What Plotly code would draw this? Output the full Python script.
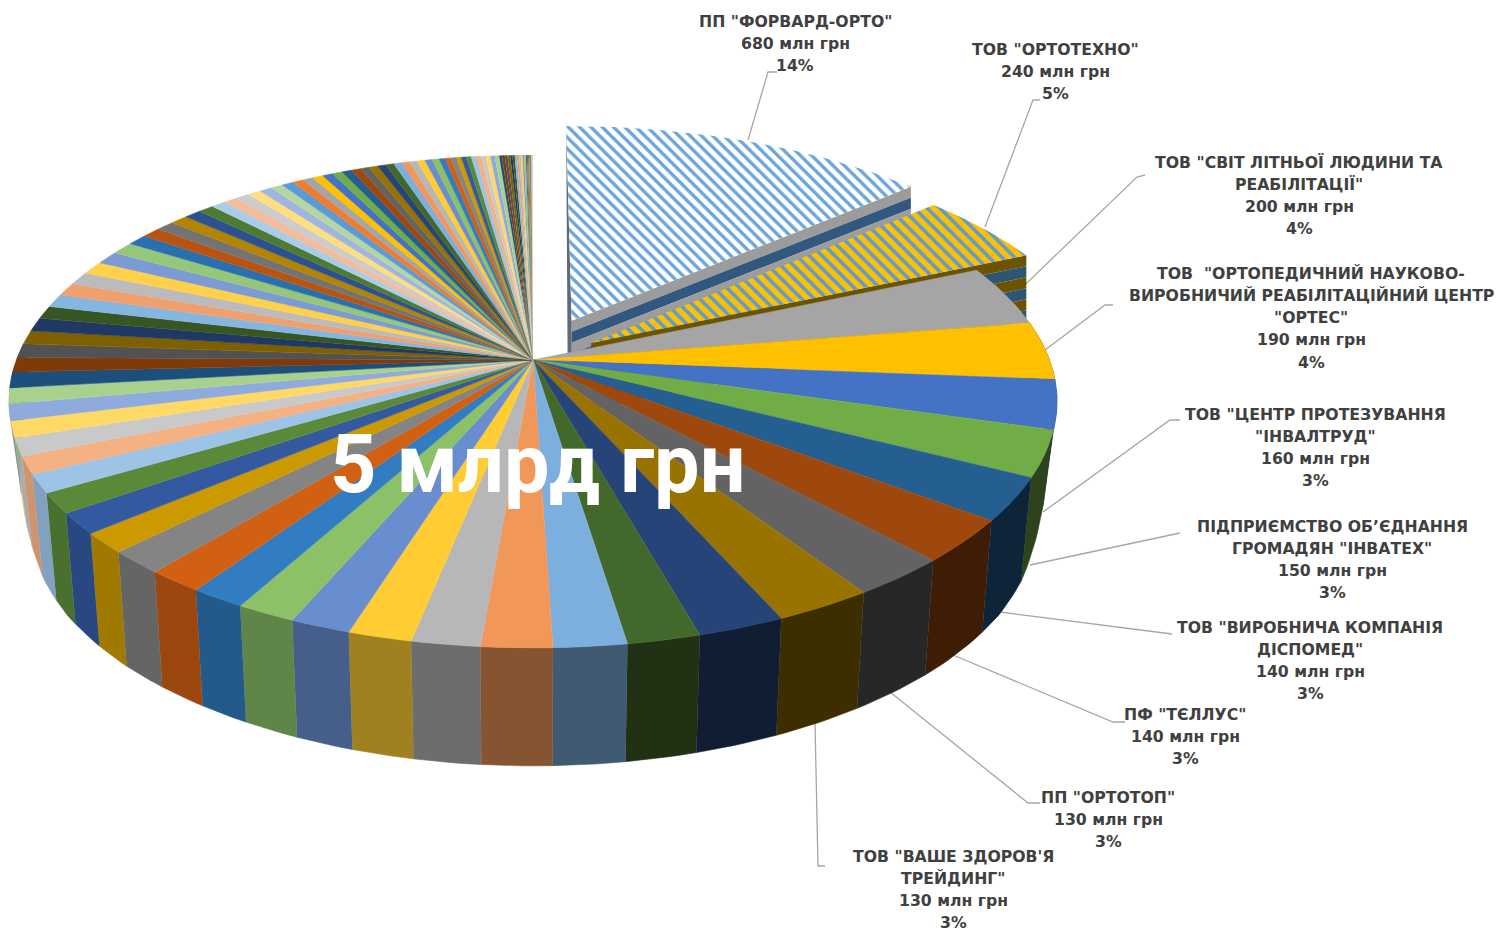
import numpy as np
import plotly.graph_objects as go

# ---------- data ----------
label_names = [
    'ПП "ФОРВАРД-ОРТО"',
    'ТОВ "ОРТОТЕХНО"',
    'ТОВ "СВІТ ЛІТНЬОЇ ЛЮДИНИ ТА|РЕАБІЛІТАЦІЇ"',
    'ТОВ  "ОРТОПЕДИЧНИЙ НАУКОВО-|ВИРОБНИЧИЙ РЕАБІЛІТАЦІЙНИЙ ЦЕНТР|"ОРТЕС"',
    'ТОВ "ЦЕНТР ПРОТЕЗУВАННЯ|"ІНВАЛТРУД"',
    'ПІДПРИЄМСТВО ОБ’ЄДНАННЯ|ГРОМАДЯН "ІНВАТЕХ"',
    'ТОВ "ВИРОБНИЧА КОМПАНІЯ|ДІСПОМЕД"',
    'ПФ "ТЄЛЛУС"',
    'ПП "ОРТОТОП"',
    'ТОВ "ВАШЕ ЗДОРОВ\'Я|ТРЕЙДИНГ"',
]
labelled_values = [680, 240, 200, 190, 160, 150, 140, 140, 130, 130]
other_values = [
    115, 96, 96, 93, 90, 84, 80, 79, 73, 75, 75, 66, 68, 66, 60, 57, 57, 54, 53, 51, 51,
    48, 46, 45, 44, 43,
    43, 43, 43, 43, 42, 42,
    36, 34, 33, 32, 30, 29,
    26, 25, 25, 24, 23, 22,
    21, 20, 19, 19, 19, 18,
    18, 17, 16, 16, 15, 15,
    15, 14, 14, 14, 13, 13,
    11, 10, 10, 9, 9, 9,
    9, 9, 8, 8, 8, 8,
    5, 5, 5, 5, 4, 4,
    4, 4, 3, 3, 3, 3, 2, 2, 2, 2, 1, 1, 1, 1, 1,
]
total_title = "5 млрд грн"
palette = [
    ["#5B9BD5", "#ED7D31", "#A5A5A5", "#FFC000", "#4472C4", "#70AD47"],
    ["#255E91", "#9E480E", "#636363", "#997300", "#264478", "#43682B"],
    ["#7CAFDD", "#F1975A", "#B7B7B7", "#FFCD33", "#698ED0", "#8CC168"],
    ["#327DC2", "#D26012", "#848484", "#CC9A00", "#335AA1", "#5A8A39"],
    ["#9DC3E6", "#F4B183", "#C9C9C9", "#FFD966", "#8FAADC", "#A9D18E"],
    ["#1D4F7C", "#7F3A0A", "#525252", "#7F6000", "#1F3864", "#375623"],
    ["#85B6E0", "#EEA06F", "#BBBBBB", "#FFD04A", "#7C9AD3", "#96C67B"],
    ["#2A70AF", "#B85410", "#737373", "#B28400", "#2C5090", "#4E7A33"],
    ["#A9CCE9", "#F4BC9A", "#CCCCCC", "#FFDE81", "#9FB5E0", "#B5D6A3"],
]

# ---------- label layout (screen pixels) ----------
label_cx = [795, 1055, 1299, 1311, 1315, 1332, 1310, 1185, 1108, 953]
label_top = [21, 49, 162, 273, 414, 526, 627, 714, 797, 856]
leaders = [
    [(777, 72), (768, 72), (748, 140)],
    [(1040, 100), (1033, 100), (985, 227)],
    [(1145, 175), (1137, 177), (1008, 301)],
    [(1113, 305), (1105, 305), (1045, 350)],
    [(1180, 420), (1170, 420), (1043, 512)],
    [(1180, 533), (1030, 565)],
    [(1172, 634), (1000, 612)],
    [(1125, 722), (1113, 722), (953, 655)],
    [(1040, 803), (1028, 803), (890, 692)],
    [(825, 866), (818, 866), (815, 722)],
]

# ---------- pie projection ----------
CX, CY = 533.0, 360.0
A, B, K = 516.5, 239.5, 0.168
EXPLODE = {0: 0.185, 1: 0.135}

values = np.array(labelled_values + other_values, float)
edges = np.concatenate([[0.0], np.cumsum(values)]) / values.sum() * 2 * np.pi


def project(theta, e=0.0, mid=0.0):
    """Disc position at clockwise angle theta (r=1), moved e along mid, to screen."""
    X = np.sin(theta) + e * np.sin(mid)
    Y = -np.cos(theta) + e * -np.cos(mid)
    w = 1 - K * Y
    return CX + A * X / w, CY + B * Y / w


def apex(e, mid):
    X, Y = e * np.sin(mid), -e * np.cos(mid)
    w = 1 - K * Y
    return CX + A * X / w, CY + B * Y / w


def drop(x, y_top, theta):
    Y = -np.cos(theta)
    h = np.interp(Y, [0, .3, .45, .55, .7, 1], [50, 78, 103, 110, 114, 118])
    return x - (x - CX) * 0.02, y_top + h


def shade(hexcol, f):
    r, g, b = (int(hexcol[i:i + 2], 16) for i in (1, 3, 5))
    return f"rgb({r * f:.0f},{g * f:.0f},{b * f:.0f})"


def color_of(i):
    return palette[(i // 6) % len(palette)][i % 6]


fig = go.Figure()


def poly(xs, ys, color, pattern=None, seam=True):
    kw = dict(x=list(xs), y=list(ys), mode="lines", fill="toself", fillcolor=color,
              line=dict(color=color, width=0.6 if seam else 0),
              hoverinfo="skip", showlegend=False)
    if pattern:
        kw["fillpattern"] = pattern
        kw["line"] = dict(width=0)
    fig.add_trace(go.Scatter(**kw))


# leader lines
for pts in leaders:
    fig.add_trace(go.Scatter(x=[p[0] for p in pts], y=[p[1] for p in pts], mode="lines",
                             line=dict(color="#A6A6A6", width=1.3),
                             hoverinfo="skip", showlegend=False))


# exploded slices: radial face with stripes, then hatched top
def exploded(i, colors, pattern, thin_face=False):
    t0, t1 = edges[i], edges[i + 1]
    mid = (t0 + t1) / 2
    e = EXPLODE[i]
    ax, ay = apex(e, mid)
    rx, ry = project(t1, e, mid)
    band = 11.0
    for n in range(6):
        poly([ax, rx, rx, ax],
             [ay + n * band, ry + n * band, ry + (n + 1) * band, ay + (n + 1) * band],
             colors[n % 2], seam=False)
    lx, ly = project(t0, e, mid)
    if thin_face:
        poly([lx, ax, ax, ax - 4], [ly, ay, ay + 36, ay + 36], "#5E6A75", seam=False)
    th = np.linspace(t0, t1, 50)
    px, py = project(th, e, mid)
    poly(np.r_[ax, px], np.r_[ay, py], "white", pattern=pattern)


exploded(0, ["#9C9C9C", "#33587F"],
         dict(shape="\\", fgcolor="#6BA5DA", bgcolor="white", fgopacity=1, fillmode="replace",
              size=8, solidity=0.42),
         thin_face=True)
exploded(1, ["#6B5300", "#2F5575"],
         dict(shape="\\", fgcolor="#FFC000", bgcolor="#5B9BD5", fgopacity=1, fillmode="replace",
              size=9, solidity=0.6))

n_slices = len(values)

# outer walls of the remaining slices, front half only
for i in range(2, n_slices):
    t0, t1 = edges[i], edges[i + 1]
    phi = np.degrees((t0 + t1) / 2) - 180
    if abs(phi) > 95:
        continue
    th = np.linspace(t0, t1, max(3, int(np.degrees(t1 - t0)) + 2))
    tx, ty = project(th)
    bx, by = drop(tx, ty, th)
    f = np.interp(phi, [-90, -60, -24, 0, 20, 45, 70, 90],
                  [.39, .39, .40, .55, .66, .78, .85, .85])
    poly(np.r_[tx, bx[::-1]], np.r_[ty, by[::-1]], shade(color_of(i), f))

# top faces
for i in range(2, n_slices):
    t0, t1 = edges[i], edges[i + 1]
    th = np.linspace(t0, t1, max(3, int(np.degrees(t1 - t0)) + 2))
    tx, ty = project(th)
    poly(np.r_[CX, tx], np.r_[CY, ty], color_of(i), seam=i < 80)

# ---------- texts ----------
annotations = []
tot = values.sum()
LINE = 22.3
for name, v, cx, top in zip(label_names, labelled_values, label_cx, label_top):
    lines = name.split("|") + [f"{v} млн грн", f"{round(v / tot * 100)}%"]
    for n, txt in enumerate(lines):
        annotations.append(dict(x=cx, y=top + n * LINE, xref="x", yref="y", text=txt,
                                showarrow=False, xanchor="center", yanchor="middle",
                                font=dict(family="DejaVu Sans", size=15.7, color="#404040",
                                          weight="bold")))
annotations.append(dict(x=538, y=464, xref="x", yref="y", text=total_title, showarrow=False,
                        xanchor="center", yanchor="middle",
                        font=dict(family="Roboto", size=81, color="white", weight="bold")))

fig.update_layout(
    width=1512, height=931, margin=dict(l=0, r=0, t=0, b=0),
    paper_bgcolor="white", plot_bgcolor="white", showlegend=False,
    xaxis=dict(range=[0, 1512], visible=False, fixedrange=True),
    yaxis=dict(range=[931, 0], visible=False, fixedrange=True),
    annotations=annotations,
)
fig.write_html("out.html", config={"displayModeBar": False},
               post_script="document.body.style.margin='0';document.documentElement.style.overflow='hidden';")
